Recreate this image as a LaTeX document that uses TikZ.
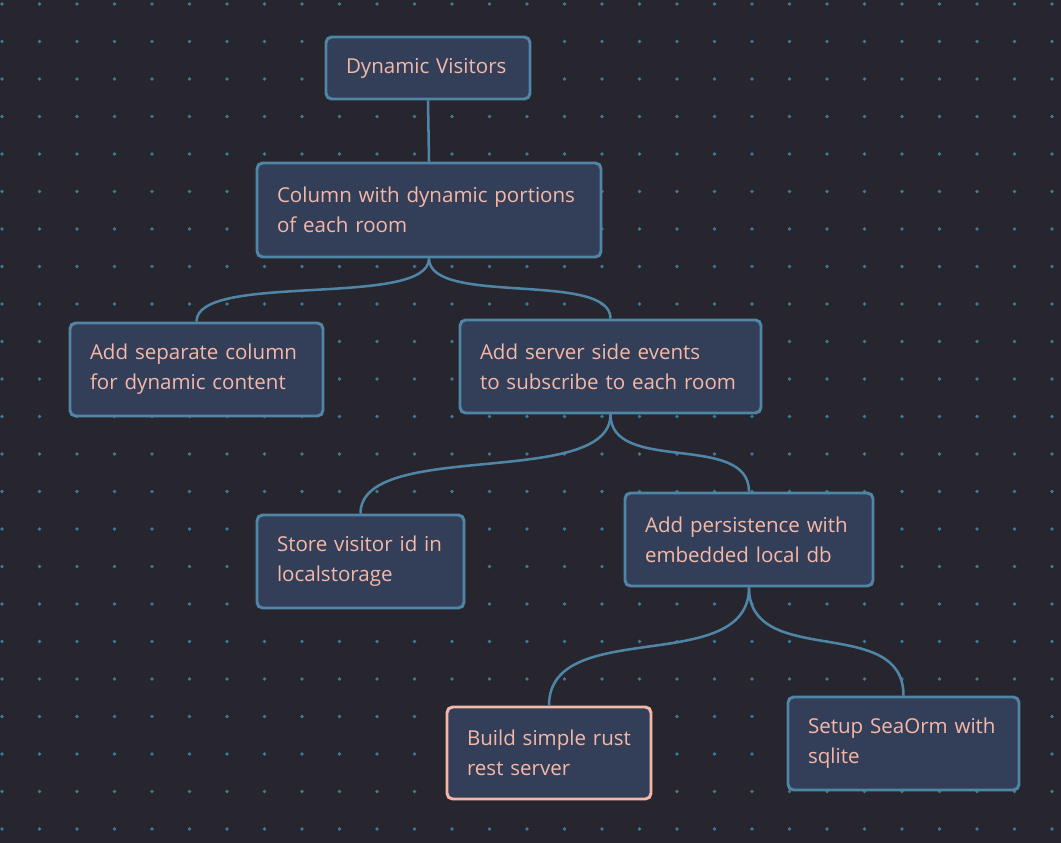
\documentclass[tikz,border=0pt]{standalone}
\usepackage{fontspec}
\setmainfont{Open Sans}
\usepackage{tikz}

\definecolor{bgdark}{RGB}{39,38,47}
\definecolor{cardfill}{RGB}{51,63,88}
\definecolor{cardline}{RGB}{79,133,166}
\definecolor{cardtext}{RGB}{245,184,168}
\definecolor{griddot}{RGB}{62,122,150}

\tikzset{
	card/.style={draw=cardline,fill=cardfill,line width=2.1pt,rounded corners=4pt,
		text=cardtext,align=left,inner xsep=0pt,inner ysep=0pt,
		font=\fontsize{14.6}{21.3}\selectfont},
	hot/.style={draw=cardtext},
	link/.style={draw=cardline,line width=1.8pt}
}

\begin{document}
\begin{tikzpicture}[x=0.025cm,y=-0.025cm]
	\useasboundingbox[fill=bgdark] (0,0) rectangle (1061,843);
	
	%DOT GRID
	\foreach \i in {0,...,28}{
		\foreach \j in {0,...,22}{
			\fill[griddot] (2+37.5*\i,4+37.5*\j) circle (1.8);
		}
	}
	
	%CARDS
	\node[card,minimum width=204*0.025cm,minimum height=62*0.025cm,text width=164*0.025cm] (visitors) at (428,68) {Dynamic Visitors};
	\node[card,minimum width=344*0.025cm,minimum height=94*0.025cm,text width=304*0.025cm] (column) at (429,210) {Column with dynamic portions\\of each room};
	\node[card,minimum width=253*0.025cm,minimum height=93*0.025cm,text width=213*0.025cm] (sepcol) at (196.5,369.5) {Add separate column\\for dynamic content};
	\node[card,minimum width=301*0.025cm,minimum height=93*0.025cm,text width=261*0.025cm] (sse) at (610.5,366.5) {Add server side events\\to subscribe to each room};
	\node[card,minimum width=207*0.025cm,minimum height=93*0.025cm,text width=167*0.025cm] (visitorid) at (360.5,561.5) {Store visitor id in\\localstorage};
	\node[card,minimum width=248*0.025cm,minimum height=93*0.025cm,text width=208*0.025cm] (persist) at (749,539.5) {Add persistence with\\embedded local db};
	\node[card,hot,minimum width=204*0.025cm,minimum height=92*0.025cm,text width=164*0.025cm] (rustsrv) at (549,753) {Build simple rust\\rest server};
	\node[card,minimum width=231*0.025cm,minimum height=93*0.025cm,text width=191*0.025cm] (seaorm) at (903.5,743.5) {Setup SeaOrm with\\sqlite};
	
	%LINKS
	\draw[link] (visitors.south)--(column.north);
	\foreach \a/\b/\h in {column/sepcol/50,column/sse/48,sse/visitorid/75,sse/persist/60,persist/rustsrv/90,persist/seaorm/82}{
		\draw[link] (\a.south) .. controls +(0,\h) and +(0,-\h) .. (\b.north);
	}
\end{tikzpicture}
\end{document}
